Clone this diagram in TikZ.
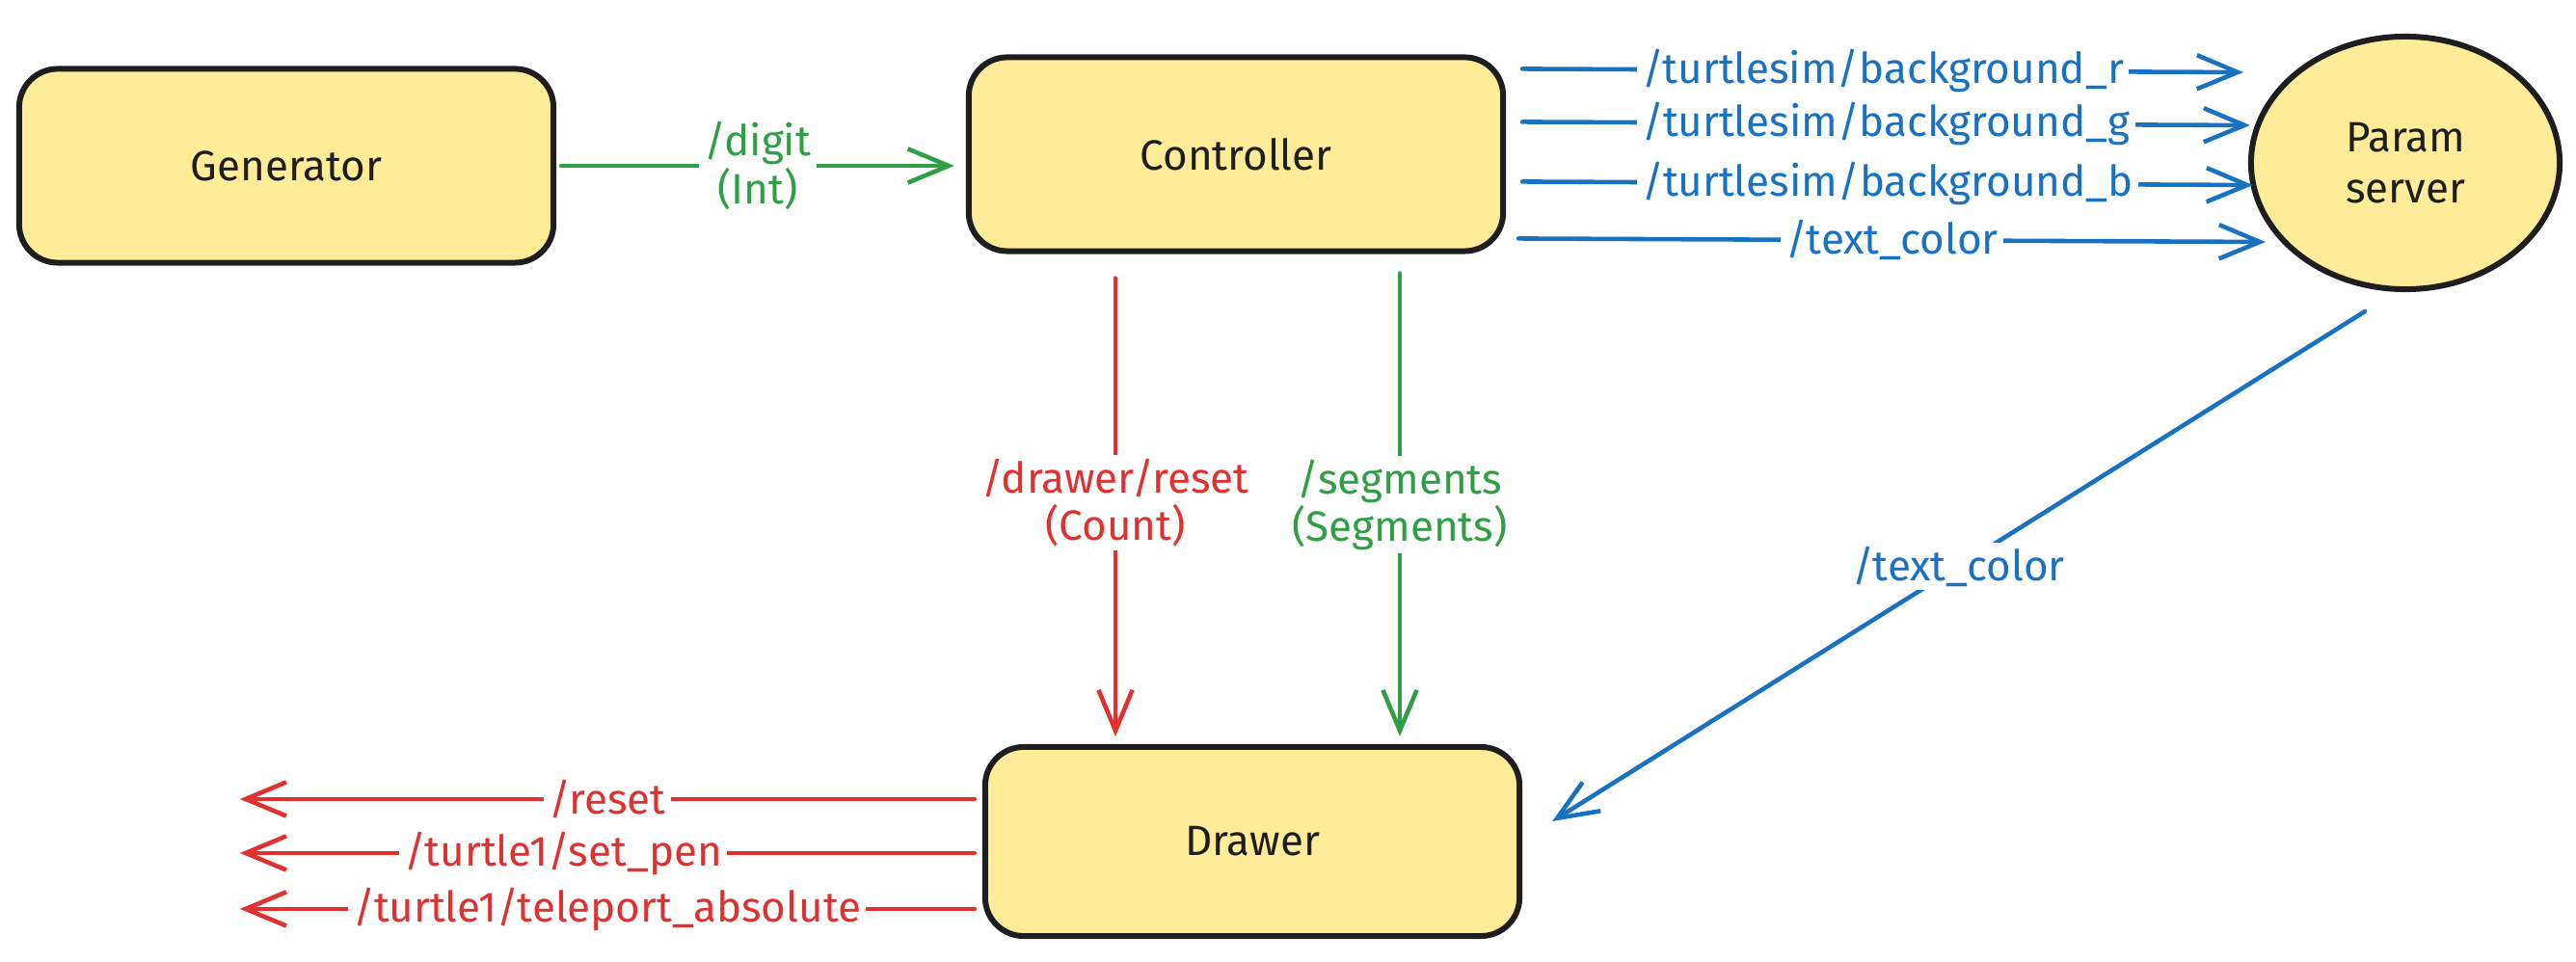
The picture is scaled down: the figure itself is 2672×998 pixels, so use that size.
\documentclass[tikz,border=0pt]{standalone}
\usepackage{fontspec}
\setmainfont{Fira Sans}
\usetikzlibrary{arrows.meta,calc,shapes.geometric}
\definecolor{boxfill}{HTML}{FFEC99}
\definecolor{ink}{HTML}{1E1E1E}
\definecolor{tgreen}{HTML}{2F9E44}
\definecolor{tred}{HTML}{E03131}
\definecolor{tblue}{HTML}{1971C2}
\begin{document}
\begin{tikzpicture}[x=0.01cm,y=-0.01cm,
  txt/.style={font=\fontsize{12.5}{14}\selectfont},
  box/.style={txt, draw=ink, fill=boxfill, line width=1.7pt, rounded corners=0.4cm,
    minimum width=5.54cm, minimum height=2.01cm, text=ink, inner sep=0pt},
  oval/.style={ellipse, draw=ink, fill=boxfill, line width=1.7pt,
    minimum width=3.2cm, minimum height=2.62cm, text=ink, inner sep=0pt, align=center,
    font=\fontsize{12.5}{15}\selectfont},
  conn/.style={line width=1.3pt, line cap=round, -{Straight Barb[length=12pt,width=10pt,line width=1.3pt]}},
  lbl/.style={txt, fill=white, inner xsep=1.5pt, inner ysep=1pt, align=center},
  gconn/.style={conn, draw=tgreen},
  rconn/.style={conn, draw=tred},
  bconn/.style={conn, draw=tblue},
  glbl/.style={lbl, text=tgreen},
  rlbl/.style={lbl, text=tred},
  blbl/.style={lbl, text=tblue}
]
\useasboundingbox (0,0) rectangle (2672,998);

\node[box] (gen) at (297,172) {Generator};
\node[box] (ctrl) at (1282,160) {Controller};
\node[box, minimum height=1.96cm] (drw) at (1299,873) {Drawer};
\node[oval] (ps) at (2495,169) {Param\\server};

% Generator -> Controller
\draw[gconn] ($(gen.east)+(5,0)$) -- node[glbl]{/digit\\(Int)} ($(ctrl.west)+(-12,12)$);

% Controller -> Param server
\draw[bconn] ($(ctrl.north east)+(17,15)$) -- node[blbl]{/turtlesim/background\_r} ($(ps.west)+(-5,-94)$);
\draw[bconn] ($(ctrl.north east)+(17,70)$) -- node[blbl]{/turtlesim/background\_g} ($(ps.west)+(2,-39)$);
\draw[bconn] ($(ctrl.north east)+(17,132)$) -- node[blbl]{/turtlesim/background\_b} ($(ps.west)+(5,23)$);
\draw[bconn] ($(ctrl.north east)+(13,191)$) -- node[blbl]{/text\_color} ($(ps.west)+(18,82)$);

% Controller -> Drawer
\draw[rconn] ($(ctrl.south)+(-125,25)$) -- node[rlbl, pos=0.49]{/drawer/reset\\(Count)} ($(drw.north)+(-142,-8)$);
\draw[gconn] ($(ctrl.south)+(170,20)$) -- node[glbl, pos=0.5]{/segments\\(Segments)} ($(drw.north)+(153,-8)$);

% Param server -> Drawer
\draw[bconn] ($(ps.south)+(-42,20)$) -- node[blbl]{/text\_color} ($(drw.east)+(31,-21)$);

% Drawer -> outside
\coordinate (o1) at ($(drw.north west)+(-770,57)$);
\coordinate (o2) at ($(drw.north west)+(-770,113)$);
\coordinate (o3) at ($(drw.north west)+(-770,171)$);
\draw[rconn] ($(drw.north west)+(-8,57)$) -- node[rlbl]{/reset} (o1);
\draw[rconn] ($(drw.north west)+(-8,113)$) -- node[rlbl, pos=0.56]{/turtle1/set\_pen} (o2);
\draw[rconn] ($(drw.north west)+(-8,171)$) -- node[rlbl, pos=0.5]{/turtle1/teleport\_absolute} (o3);
\end{tikzpicture}
\end{document}
